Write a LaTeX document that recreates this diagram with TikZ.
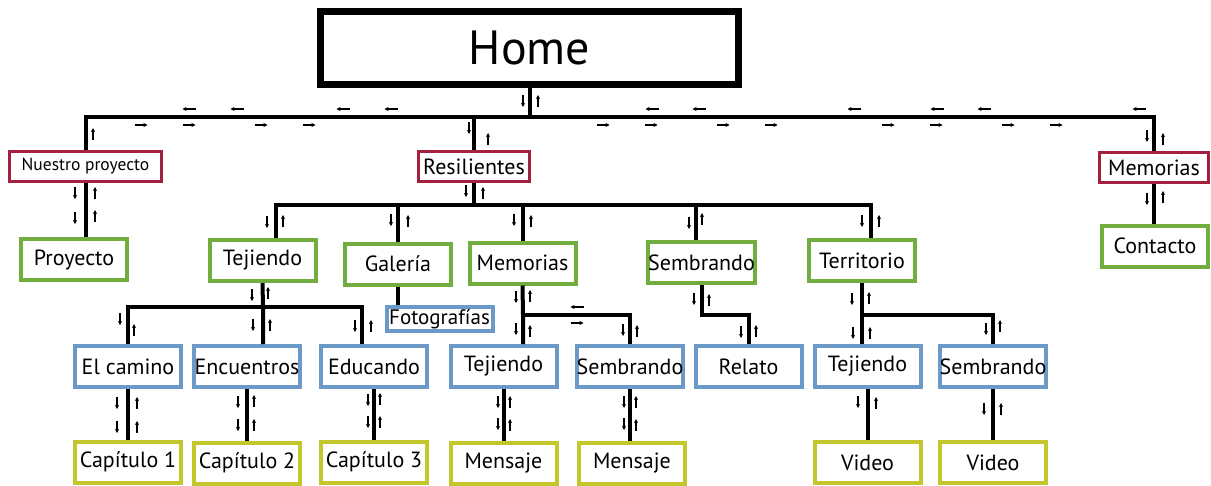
\documentclass[tikz,border=0pt]{standalone}
\usepackage{fontspec}
\setmainfont{PT Sans}
\usetikzlibrary{arrows.meta}
\definecolor{rojo}{HTML}{A3203F}
\definecolor{verde}{HTML}{72AE3F}
\definecolor{azul}{HTML}{6C9AC8}
\definecolor{amarillo}{HTML}{C4C72C}
\tikzset{
  caja/.style={draw,fill=white,inner sep=0pt,minimum width=106pt,minimum height=41pt,line width=4pt,font=\fontsize{22}{26}\selectfont},
  roja/.style={caja,draw=rojo,line width=3pt,minimum height=30pt},
  verdecaja/.style={caja,draw=verde},
  azulcaja/.style={caja,draw=azul},
  amarillacaja/.style={caja,draw=amarillo},
  enlace/.style={line width=4pt},
  flecha/.style={line width=1.2pt}
}
\begin{document}
\begin{tikzpicture}[>={Stealth[length=4pt,width=4pt]},x=1pt,y=-1pt]
\useasboundingbox (0,0) rectangle (1211,485);
% nivel 0 y 1
\node[draw,line width=7pt,minimum width=418pt,minimum height=73pt,inner sep=0pt,font=\fontsize{48}{52}\selectfont] (home) at (529.5,48) {Home};
\node[roja,minimum width=152pt,font=\fontsize{17.5}{20}\selectfont] (nuestro) at (85.5,166) {Nuestro proyecto};
\node[roja,minimum width=111pt] (resil) at (474,166.5) {Resilientes};
\node[roja,minimum width=109pt] (memo) at (1154,167.5) {Memorias};
% nivel 2
\node[verdecaja] (proy) at (74,259.5) {Proyecto};
\node[verdecaja] (tej) at (262.5,260.5) {Tejiendo};
\node[verdecaja] (gal) at (398,264) {Galería};
\node[verdecaja] (memg) at (522.5,263) {Memorias};
\node[verdecaja] (semg) at (701.5,262.5) {Sembrando};
\node[verdecaja] (terr) at (862,260.5) {Territorio};
\node[verdecaja] (cont) at (1155,246) {Contacto};
% nivel 3
\node[azulcaja,minimum height=24pt,font=\fontsize{21}{24}\selectfont] (foto) at (439.5,319) {Fotografías};
\node[azulcaja] (camino) at (128,366.5) {El camino};
\node[azulcaja] (encu) at (247,366.5) {Encuentros};
\node[azulcaja] (educ) at (374,366.5) {Educando};
\node[azulcaja] (tejm) at (503.5,366.5) {Tejiendo};
\node[azulcaja] (semm) at (630,366.5) {Sembrando};
\node[azulcaja] (rel) at (748.5,366.5) {Relato};
\node[azulcaja] (tejt) at (867.5,366.5) {Tejiendo};
\node[azulcaja] (semt) at (993,366.5) {Sembrando};
% nivel 4
\node[amarillacaja] (cap1) at (128,462) {Capítulo 1};
\node[amarillacaja] (cap2) at (247,463) {Capítulo 2};
\node[amarillacaja] (cap3) at (374,462) {Capítulo 3};
\node[amarillacaja] (mens1) at (503.5,463) {Mensaje};
\node[amarillacaja] (mens2) at (632,463) {Mensaje};
\node[amarillacaja] (vid1) at (867.5,462.5) {Video};
\node[amarillacaja] (vid2) at (993,462.5) {Video};
% enlaces
\coordinate (j1) at (529.5,117);
\coordinate (j2) at (474,205);
\coordinate (j3) at (263,307);
\coordinate (j4) at (523,315);
\coordinate (j5) at (862,315);
\draw[enlace] (home.south) -- (j1);
\draw[enlace] (nuestro.north) |- (j1) -| (memo.north);
\draw[enlace] (resil.north) -- (resil.north |- j1);
\draw[enlace] (nuestro.south) -- (nuestro.south |- proy.north);
\draw[enlace] (memo.south) -- (memo.south |- cont.north);
\draw[enlace] (resil.south) -- (j2);
\draw[enlace] ([xshift=13.5pt]tej.north) |- (j2) -| ([xshift=9pt]terr.north);
\draw[enlace] (gal.north) -- (gal.north |- j2);
\draw[enlace] (memg.north) -- (memg.north |- j2);
\draw[enlace] ([xshift=-6pt]semg.north) -- ([xshift=-6pt]semg.north |- j2);
\draw[enlace] (tej.south) -- (j3) -- (j3 |- encu.north);
\draw[enlace] (camino.north) |- (j3) -| ([xshift=-12pt]educ.north);
\draw[enlace] (gal.south) -- (gal.south |- foto.north);
\draw[enlace] (memg.south) -- (j4) -- (j4 |- tejm.north);
\draw[enlace] (j4) -| (semm.north);
\draw[enlace] (semg.south) -- ++(0,30) -| (rel.north);
\draw[enlace] (terr.south) -- (j5) -- (j5 |- tejt.north);
\draw[enlace] (j5) -| (semt.north);
\draw[enlace] (camino.south) -- (cap1.north);
\draw[enlace] (encu.south) -- (cap2.north);
\draw[enlace] (educ.south) -- (cap3.north);
\draw[enlace] (tejm.south) -- (mens1.north);
\draw[enlace] (semm.south) -- (semm.south |- mens2.north);
\draw[enlace] (tejt.south) -- (vid1.north);
\draw[enlace] (semt.south) -- (vid2.north);
% flechitas
\foreach \x/\y in {523/95,469/122,1147/130,75/187,75/212,466/185,267/216,391/214,514/214,689/217,862/215,1147/193,252/289,120/313,253/319,355/320,117/397,117/421,238/396,238/419,368/394,368/416,516/291,516/323,623/324,694/293,741/326,498/396,498/418,624/396,624/418,852/293,853/327,986/323,858/396,984/403}
  \draw[->,flecha] (\x,\y) -- ++(0,12);
\foreach \x/\y in {538/95,93/128,488/133,1163/133,95/187,95/210,483/187,283/215,408/215,531/215,702/213,879/215,1163/191,268/287,134/324,270/319,371/320,137/397,137/421,254/395,254/419,380/393,380/416,530/290,530/325,637/325,709/294,756/325,510/396,510/419,636/396,636/419,869/292,870/327,1000/320,876/397,1001/403}
  \draw[->,flecha] (\x,\y+12) -- ++(0,-12);
\foreach \x/\y in {189/109,237/109,343/109,391/109,652/109,699/109,854/109,937/109,984/109,1139/109,577/307}
  \draw[->,flecha] (\x+6.5,\y) -- ++(-13,0);
\foreach \x/\y in {141/125,189/125,261/125,309/125,603/125,651/125,723/125,771/125,888/125,936/125,1008/125,1056/125,577/323}
  \draw[->,flecha] (\x-6.5,\y) -- ++(13,0);
\end{tikzpicture}
\end{document}
